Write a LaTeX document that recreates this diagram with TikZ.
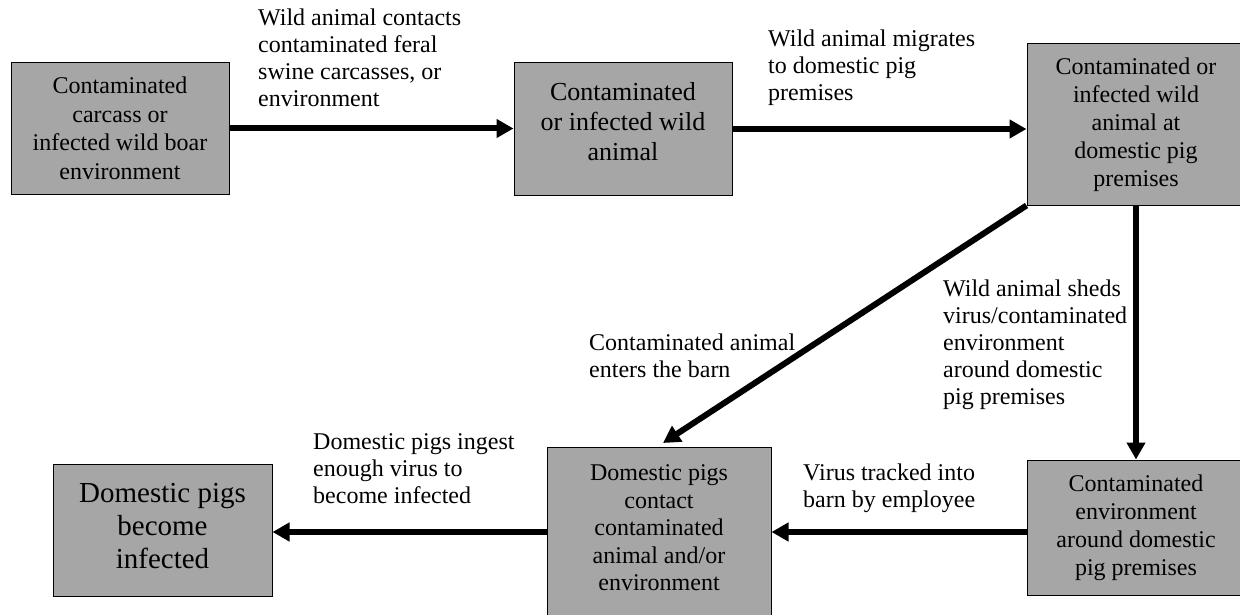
\documentclass[tikz,border=0pt]{standalone}
\usepackage{fontspec}
\setmainfont{Liberation Serif}
\usetikzlibrary{arrows.meta}
\definecolor{boxgray}{RGB}{166,166,166}
\begin{document}
\begin{tikzpicture}[x=1pt,y=-1pt,
  box/.style={draw=black,line width=1pt,fill=boxgray,align=center,inner sep=0pt,
    font=\fontsize{24}{28.5}\selectfont},
  boxtext/.style={align=center,inner sep=0pt,font=\fontsize{24}{27.5}\selectfont},
  lbl/.style={anchor=north west,align=left,inner sep=0pt,font=\fontsize{24}{27}\selectfont},
  flow/.style={line width=6pt,-{Triangle[length=17pt,width=18pt]}}]
\useasboundingbox (0,0) rectangle (1240,615);
\node[box,minimum width=218pt,minimum height=131pt] (b1) at (120,128.5)
  {Contaminated\\carcass or\\infected wild boar\\environment};
\node[box,minimum width=218pt,minimum height=132pt] (b2) at (623,129) {};
\node[boxtext,font=\fontsize{26}{30}\selectfont] (b2t) at (623,122)
  {Contaminated\\or infected wild\\animal};
\node[box,minimum width=218pt,minimum height=161pt,font=\fontsize{24}{28}\selectfont] (b3) at (1136,124.5)
  {Contaminated or\\infected wild\\animal at\\domestic pig\\premises};
\node[box,minimum width=218pt,minimum height=135pt,font=\fontsize{24}{28}\selectfont] (b4) at (1136,527.5)
  {Contaminated\\environment\\around domestic\\pig premises};
\node[box,minimum width=224pt,minimum height=180pt] (b5) at (659,537) {};
\node[boxtext] (b5t) at (659,528)
  {Domestic pigs\\contact\\contaminated\\animal and/or\\environment};
\node[box,minimum width=219pt,minimum height=132pt] (b6) at (162.5,530) {};
\node[boxtext,font=\fontsize{29}{33}\selectfont] (b6t) at (162.5,526)
  {Domestic pigs\\become\\infected};
\coordinate (ay) at (0,532);
\coordinate (tip) at (663,443);
\draw[flow] (b1.east) -- (b1.east -| b2.west);
\draw[flow] (b2.east) -- (b2.east -| b3.west);
\draw[flow] (b3.south west) -- (tip);
\draw[flow] (b3.south) -- (b4.north);
\draw[flow] (b4.west |- ay) -- (b5.east |- ay);
\draw[flow] (b5.west |- ay) -- (b6.east |- ay);
\node[lbl] (l1) at (258,8.6) {Wild animal contacts\\contaminated feral\\swine carcasses, or\\environment};
\node[lbl] (l2) at (768,29.6) {Wild animal migrates\\to domestic pig\\premises};
\node[lbl] (l3) at (589,333.6) {Contaminated animal\\enters the barn};
\node[lbl] (l4) at (943,279.6) {Wild animal sheds\\virus/contaminated\\environment\\around domestic\\pig premises};
\node[lbl] (l5) at (803,463.6) {Virus tracked into\\barn by employee};
\node[lbl] (l6) at (313,433.6) {Domestic pigs ingest\\enough virus to\\become infected};
\end{tikzpicture}
\end{document}
